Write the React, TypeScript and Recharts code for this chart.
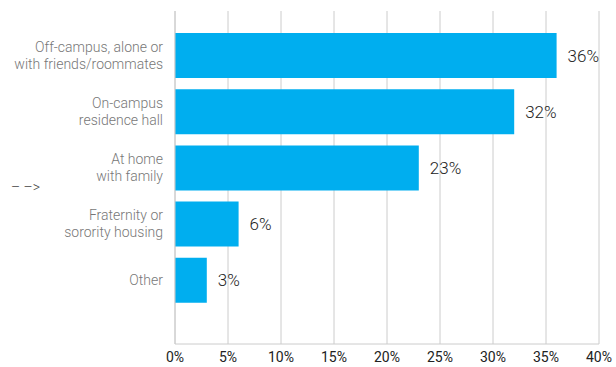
import React from 'react';
import { BarChart, Bar, XAxis, YAxis, CartesianGrid, LabelList } from 'recharts';

const categories = [
  'Off-campus, alone or\nwith friends/roommates',
  'On-campus\nresidence hall',
  'At home\nwith family',
  'Fraternity or\nsorority housing',
  'Other',
];
const shares = [36, 32, 23, 6, 3];
const xTicks = [0, 5, 10, 15, 20, 25, 30, 35, 40];

const data = categories.map((name, i) => ({ name, value: shares[i] }));

const CategoryTick = (props: any) => {
  const { x, y, payload } = props;
  const lines: string[] = String(payload.value).split('\n');
  const lh = 17;
  const start = -((lines.length - 1) * lh) / 2;
  return (
    <text x={x - 4} y={y} textAnchor="end" fill="#777" fontSize={14} fontFamily="Roboto" fontWeight={300}>
      {lines.map((l, i) => (
        <tspan key={i} x={x - 4} dy={i === 0 ? start + 5 : lh}>
          {l}
        </tspan>
      ))}
    </text>
  );
};

const App: React.FC = () => {
  return (
    <div style={{ position: 'absolute', left: 0, top: 0, width: 616, height: 367, fontFamily: 'Roboto' }}>
      <div
        style={{
          position: 'absolute',
          left: 11,
          top: 179,
          fontSize: 14,
          color: '#444',
          fontFamily: 'Roboto',
          fontWeight: 300,
          whiteSpace: 'pre',
        }}
      >
        – –&gt;
      </div>
      <BarChart
        width={616}
        height={367}
        data={data}
        layout="vertical"
        margin={{ top: 11, right: 17, bottom: 3, left: 0 }}
        style={{ overflow: 'visible' }}
      >
        <CartesianGrid horizontal={false} stroke="#ccc" />
        <XAxis
          type="number"
          domain={[0, 40]}
          ticks={xTicks}
          tickFormatter={(v) => `${v}%`}
          tickLine={false}
          stroke="#ccc"
          tick={{ fill: '#222', fontSize: 14, fontFamily: 'Roboto' }}
          height={20}
          interval={0}
        />
        <YAxis
          type="category"
          dataKey="name"
          width={175}
          tickLine={false}
          stroke="#ccc"
          tick={<CategoryTick />}
          padding={{ top: 16, bottom: 36 }}
          interval={0}
        />
        <Bar dataKey="value" fill="#00AEEF" barSize={45} isAnimationActive={false}>
          <LabelList
            dataKey="value"
            position="right"
            offset={11}
            formatter={(v: any) => `${v}%`}
            fill="#222"
            fontSize={17}
            fontFamily="Roboto"
            fontWeight={300}
          />
        </Bar>
      </BarChart>
    </div>
  );
};

export default App;
